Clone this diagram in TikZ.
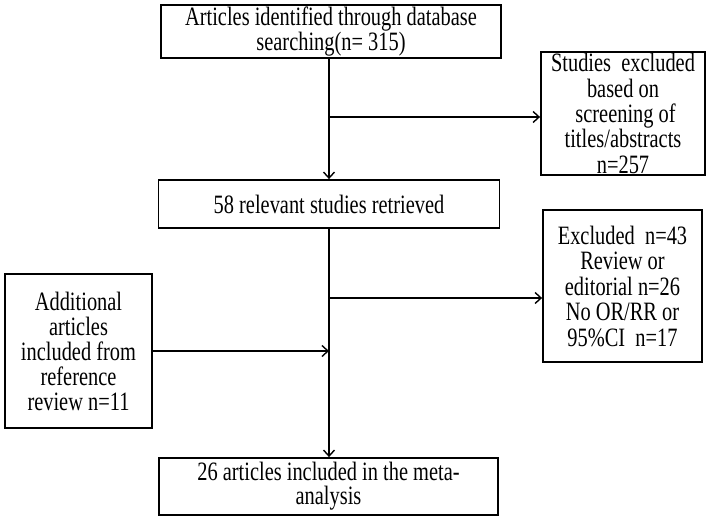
\documentclass[tikz,border=0pt]{standalone}
\usepackage{fontspec}
\setmainfont{Liberation Serif}[FakeStretch=0.77]
\usetikzlibrary{arrows.meta}
\tikzset{
  box/.style={draw=black, line width=1.8pt, inner sep=0pt, align=center,
    font=\fontsize{26.5}{25}\selectfont},
  arr/.style={draw=black, line width=1.6pt, -{Straight Barb[length=6pt,width=11pt,line width=1.4pt]}}
}
\begin{document}
\begin{tikzpicture}[x=1pt,y=-1pt]
\useasboundingbox (0,0) rectangle (711,522);
\node[box, minimum width=340pt, minimum height=53pt] (b1) at (331,31.5)
  {Articles identified through database\\searching(n= 315)};
\node[box, minimum width=164pt, minimum height=123pt, font=\fontsize{26.5}{25.4}\selectfont] (b2) at (623,113.5)
  {Studies\ \ excluded\\based on\\\ screening of\\titles/abstracts\\n=257};
\node[box, minimum width=341pt, minimum height=48pt] (b3) at (329,204)
  {58 relevant studies retrieved};
\node[box, minimum width=159pt, minimum height=152pt, font=\fontsize{26.5}{25.5}\selectfont] (b4) at (622.5,286)
  {Excluded\ \ n=43\\Review or\\editorial n=26\\No OR/RR or\\95\%CI\ \ n=17};
\node[box, minimum width=147pt, minimum height=154pt] (b5) at (78.5,351)
  {Additional\\articles\\included from\\reference\\review n=11};
\node[box, minimum width=339pt, minimum height=57pt, font=\fontsize{26.5}{24}\selectfont] (b6) at (328.5,486.5)
  {26 articles included in the meta-\\analysis};
\coordinate (t) at (329,0);
\coordinate (j1) at (329,117);
\coordinate (j2) at (329,298);
\draw[arr] (b1.south -| t) -- (b3.north -| t);
\draw[arr] (j1) -- (j1 -| b2.west);
\draw[arr] (b3.south -| t) -- (b6.north -| t);
\draw[arr] (j2) -- (j2 -| b4.west);
\draw[arr] (b5.east) -- (b5.east -| t);
\end{tikzpicture}
\end{document}
